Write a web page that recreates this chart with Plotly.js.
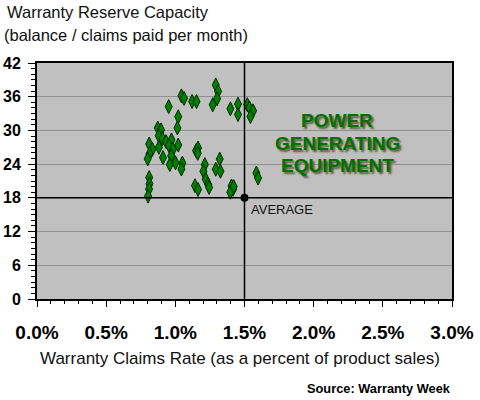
<!DOCTYPE html>
<html>
<head>
<meta charset="utf-8">
<script src="https://cdn.plot.ly/plotly-3.0.1.min.js"></script>
<style>html,body{margin:0;padding:0;background:#fff;}#chart{width:480px;height:400px;}</style>
</head>
<body>
<div id="chart"></div>
<script>
// Warranty claims rate (% of product sales) for each company
const claimsRate = [1.292,1.309,1.302,1.270,1.044,1.063,1.121,1.153,0.952,1.021,1.015,
  1.398,1.453,1.453,1.520,1.536,1.562,1.543,0.873,0.897,0.880,0.907,0.933,0.972,0.954,
  0.983,1.021,0.811,0.834,0.813,0.800,0.881,0.911,0.970,0.960,1.001,1.051,1.044,1.150,
  1.164,1.162,1.321,1.213,1.203,1.292,1.326,1.220,1.238,1.244,1.142,1.164,0.811,0.813,
  0.810,0.803,1.406,1.417,1.397,1.586,1.598,1.422];
// Warranty reserve capacity (months)
const reserveCapacity = [38.1,36.95,35.65,34.56,36.15,35.7,35.14,35.14,34.24,32.43,30.43,
  33.85,34.68,32.82,34.59,34.02,33.49,32.48,30.43,30.09,29.06,28.53,28.0,28.32,27.29,
  26.63,27.41,27.59,26.63,25.82,24.93,26.99,25.16,25.48,23.92,24.24,24.19,23.13,26.40,
  26.88,25.93,24.90,23.92,22.72,23.09,22.74,21.30,20.38,19.85,20.17,19.49,21.62,20.50,
  19.55,18.31,20.11,19.53,19.01,22.42,21.53,20.0];
const avgRate = [1.5];
const avgCapacity = [18];
const xTickVals = [0,0.5,1,1.5,2,2.5,3];
const xTickText = ['0.0%','0.5%','1.0%','1.5%','2.0%','2.5%','3.0%'];
const yTickVals = [0,6,12,18,24,30,36,42];
const labelLines = ['POWER','GENERATING','EQUIPMENT'];

const xTickFont = {family:'"Liberation Sans", Arial, sans-serif', size:19, color:'#000', weight:'bold'};
const yTickFont = {family:'"Liberation Sans", Arial, sans-serif', size:16, color:'#000', weight:'bold'};
const txtFont = {family:'"Liberation Sans", Arial, sans-serif', size:16.5, color:'#111'};
const labelFont = {family:'"Liberation Sans", Arial, sans-serif', size:19, color:'#007000',
  weight:'bold', shadow:'2px 2px 2px #5a5a3a'};

const traces = [
  {x: claimsRate, y: reserveCapacity, type:'scatter', mode:'markers',
   marker:{symbol:'diamond-tall', size:10, color:'#008000', line:{color:'#002800', width:1}},
   hoverinfo:'skip', cliponaxis:false},
  {x: avgRate, y: avgCapacity, type:'scatter', mode:'markers',
   marker:{symbol:'circle', size:8, color:'#000'}, hoverinfo:'skip', cliponaxis:false}
];

const labelY = [0.758, 0.661, 0.564];
const labelAnns = labelLines.map((t, i) => ({xref:'paper', yref:'paper', x:0.723, y:labelY[i],
  xanchor:'center', yanchor:'middle', text:t, showarrow:false, font:labelFont}));

const layout = {
  width:480, height:400,
  margin:{l:37, r:28, t:63, b:101},
  paper_bgcolor:'#fff', plot_bgcolor:'#c0c0c0',
  showlegend:false,
  xaxis:{range:[0,3], tickvals:xTickVals, ticktext:xTickText, ticks:'outside', ticklen:6,
    tickcolor:'#000', tickwidth:1, showgrid:false, zeroline:false, showline:true,
    linecolor:'#000', linewidth:2, mirror:true, tickfont:xTickFont, ticklabelstandoff:9,
    minor:{dtick:0.1, ticks:'outside', ticklen:3, tickcolor:'#000', showgrid:false},
    fixedrange:true},
  yaxis:{range:[0,42], tickvals:yTickVals, ticks:'outside', ticklen:7, tickcolor:'#000',
    tickwidth:1, showgrid:true, gridcolor:'#909090', gridwidth:1, zeroline:false,
    showline:true, linecolor:'#000', linewidth:2, mirror:true, tickfont:yTickFont,
    ticklabelstandoff:4,
    minor:{dtick:1, ticks:'outside', ticklen:4, tickcolor:'#000', showgrid:false},
    fixedrange:true},
  shapes:[
    {type:'line', xref:'x', yref:'y', x0:avgRate[0], x1:avgRate[0], y0:0, y1:42, line:{color:'#000', width:1.5}},
    {type:'line', xref:'x', yref:'y', x0:0, x1:3, y0:avgCapacity[0], y1:avgCapacity[0], line:{color:'#000', width:1.5}}
  ],
  annotations:[
    {xref:'paper', yref:'paper', x:-0.078, y:1.216, xanchor:'left', yanchor:'middle',
     text:'Warranty Reserve Capacity', showarrow:false, font:txtFont},
    {xref:'paper', yref:'paper', x:-0.085, y:1.119, xanchor:'left', yanchor:'middle',
     text:'(balance / claims paid per month)', showarrow:false, font:txtFont},
    {xref:'paper', yref:'paper', x:0.49, y:-0.254, xanchor:'center', yanchor:'middle',
     text:'Warranty Claims Rate (as a percent of product sales)', showarrow:false,
     font:{family:'"Liberation Sans", Arial, sans-serif', size:17, color:'#111'}},
    {xref:'paper', yref:'paper', x:1.002, y:-0.381, xanchor:'right', yanchor:'middle',
     text:'<b>Source: Warranty Week</b>', showarrow:false,
     font:{family:'"Liberation Sans", Arial, sans-serif', size:12.8, color:'#000'}},
    {xref:'x', yref:'y', x:avgRate[0], y:avgCapacity[0], xanchor:'left', yanchor:'top',
     xshift:4, yshift:-2, text:'AVERAGE', showarrow:false,
     font:{family:'"Liberation Sans", Arial, sans-serif', size:13, color:'#111'}}
  ].concat(labelAnns)
};

Plotly.newPlot('chart', traces, layout, {staticPlot:true, displayModeBar:false});
</script>
</body>
</html>
